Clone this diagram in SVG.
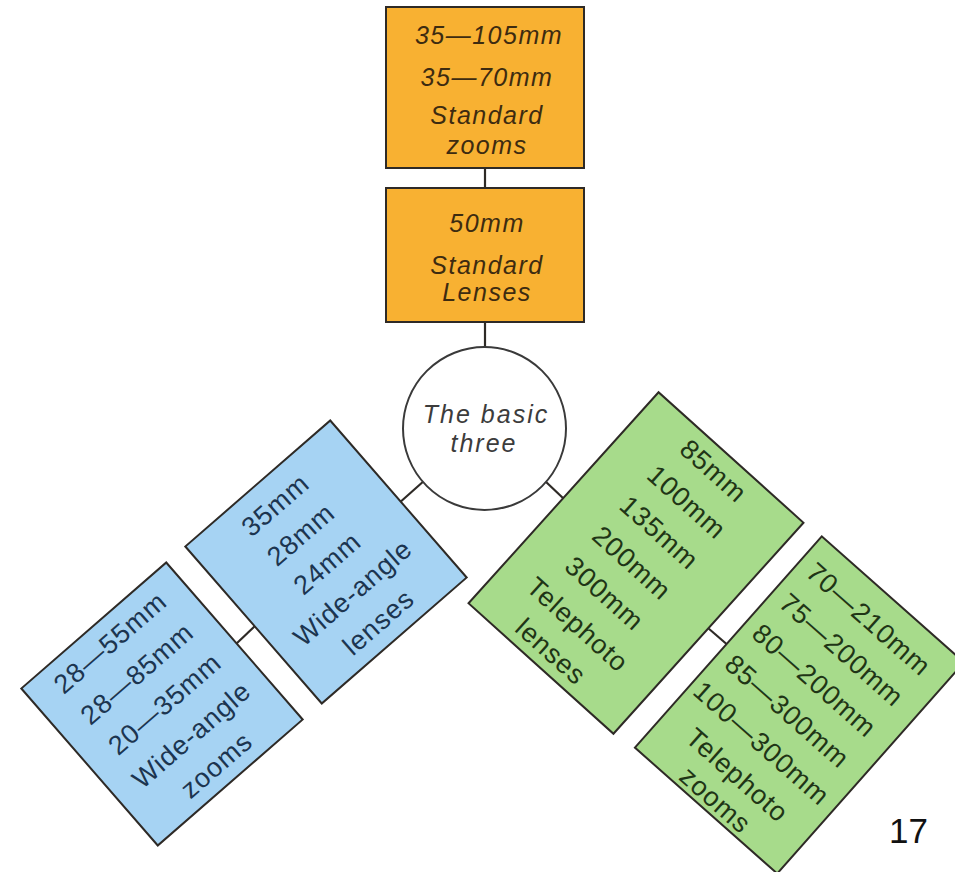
<svg xmlns="http://www.w3.org/2000/svg" width="955" height="872" viewBox="0 0 955 872">
<style>
.bg{fill:#ffffff}
.box{stroke:#2e2a26;stroke-width:2}
.orange{fill:#f8b132}
.blue{fill:#a6d3f3}
.green{fill:#a7db8b}
.circ{fill:#ffffff;stroke:#3a3a3a;stroke-width:2}
.conn line{stroke:#2e2a26;stroke-width:2.2}
.ot{font-family:"Liberation Sans",Arial,sans-serif;font-style:italic;font-size:25px;letter-spacing:1.5px;fill:#3d2b10;text-anchor:middle}
.ct{font-family:"Liberation Sans",Arial,sans-serif;font-style:italic;font-size:25px;letter-spacing:2px;fill:#3c3c3c;text-anchor:middle}
.bt{font-family:"Liberation Sans",Arial,sans-serif;font-size:27px;letter-spacing:1px;fill:#1c3550;text-anchor:middle}
.gt{font-family:"Liberation Sans",Arial,sans-serif;font-size:27px;letter-spacing:1px;fill:#1f3516;text-anchor:middle}
.pn{font-family:"Liberation Sans",Arial,sans-serif;font-size:35px;fill:#111111}
</style>
<rect class="bg" x="0" y="0" width="955" height="872"/>
<g id="connectors" class="conn">
<line x1="485" y1="166" x2="485" y2="190"/>
<line x1="485" y1="320" x2="485" y2="349"/>
<line x1="425" y1="480" x2="398" y2="504"/>
<line x1="545" y1="481" x2="564" y2="499"/>
<line x1="256" y1="625" x2="236" y2="644"/>
<line x1="708" y1="628" x2="730" y2="647"/>
</g>
<g id="standard-zooms">
<rect class="box orange" x="386" y="7" width="198" height="161"/>
<text class="ot" x="489" y="44">35—105mm</text>
<text class="ot" x="487" y="86">35—70mm</text>
<text class="ot" x="487" y="124">Standard</text>
<text class="ot" x="487" y="154">zooms</text>
</g>
<g id="standard-lenses">
<rect class="box orange" x="386" y="188" width="198" height="134"/>
<text class="ot" x="487" y="232">50mm</text>
<text class="ot" x="487" y="274">Standard</text>
<text class="ot" x="487" y="301">Lenses</text>
</g>
<g id="basic-three">
<circle class="circ" cx="484.5" cy="428.5" r="81.5"/>
<text class="ct" x="486" y="423">The basic</text>
<text class="ct" x="484" y="452">three</text>
</g>
<g id="wide-angle-lenses" transform="translate(326,562) rotate(-41)">
<rect class="box blue" x="-96" y="-104" width="192" height="208"/>
<text class="bt" x="-1" y="-67">35mm</text>
<text class="bt" x="-1" y="-28">28mm</text>
<text class="bt" x="0" y="11">24mm</text>
<text class="bt" x="0" y="50">Wide-angle</text>
<text class="bt" x="0" y="89">lenses</text>
</g>
<g id="wide-angle-zooms" transform="translate(162,704) rotate(-41)">
<rect class="box blue" x="-96" y="-104" width="192" height="208"/>
<text class="bt" x="1" y="-71">28—55mm</text>
<text class="bt" x="1" y="-30">28—85mm</text>
<text class="bt" x="2" y="11">20—35mm</text>
<text class="bt" x="2" y="52">Wide-angle</text>
<text class="bt" x="1" y="91">zooms</text>
</g>
<g id="telephoto-lenses" transform="translate(636,563) rotate(42)">
<rect class="box green" x="-97.5" y="-142" width="195" height="284"/>
<text class="gt" x="-4" y="-111">85mm</text>
<text class="gt" x="-3" y="-70">100mm</text>
<text class="gt" x="-3" y="-29">135mm</text>
<text class="gt" x="-3" y="12">200mm</text>
<text class="gt" x="-3" y="53">300mm</text>
<text class="gt" x="-2" y="94">Telephoto</text>
<text class="gt" x="-4" y="132">lenses</text>
</g>
<g id="telephoto-zooms" transform="translate(799.5,705) rotate(41.5)">
<rect class="box green" x="-95" y="-141" width="190" height="282"/>
<text class="gt" x="-5" y="-101">70—210mm</text>
<text class="gt" x="-5" y="-60">75—200mm</text>
<text class="gt" x="-5" y="-19">80—200mm</text>
<text class="gt" x="-5" y="22">85—300mm</text>
<text class="gt" x="-3" y="63">100—300mm</text>
<text class="gt" x="0" y="103">Telephoto</text>
<text class="gt" x="0" y="136">zooms</text>
</g>
<g id="page-number">
<text class="pn" x="889" y="843">17</text>
</g>
</svg>
